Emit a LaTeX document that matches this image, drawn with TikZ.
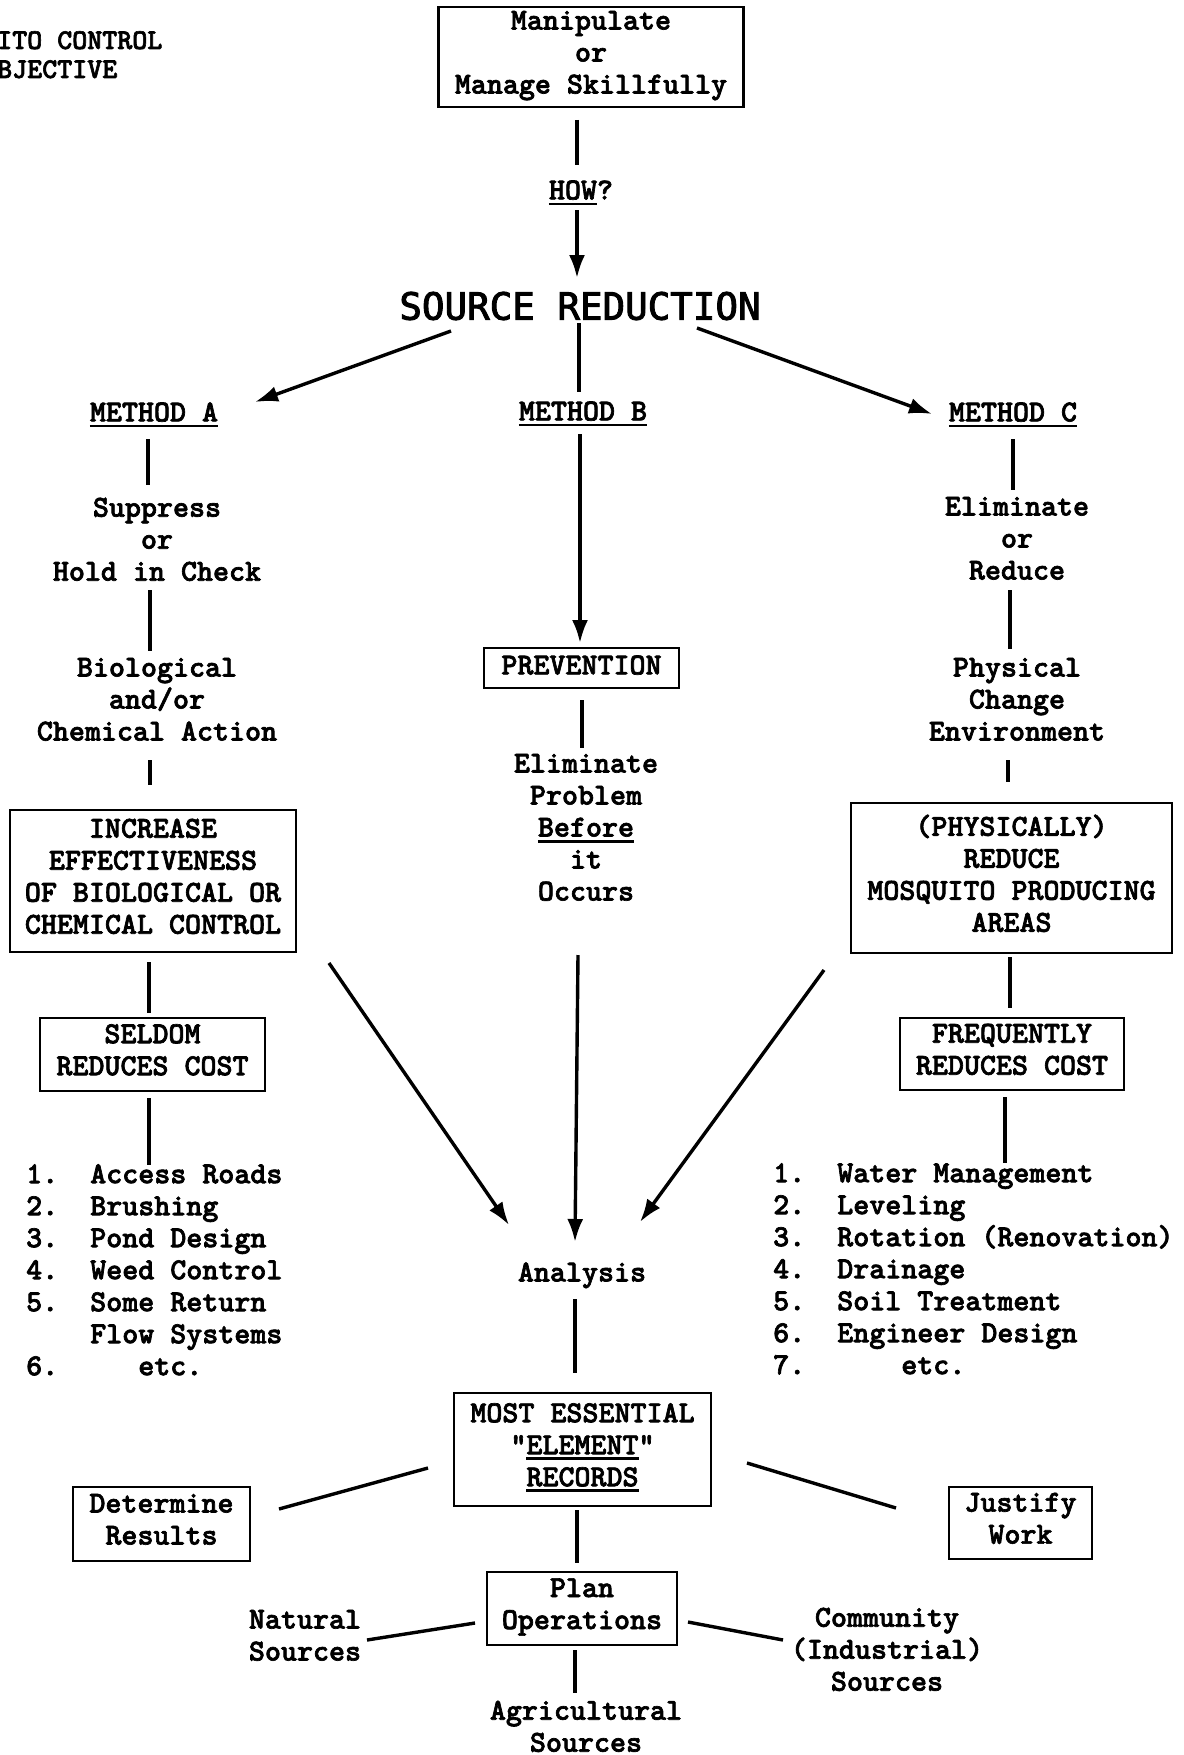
\documentclass[tikz,border=0pt]{standalone}
\usepackage{fontspec}
\newfontfamily\srcfont{DejaVu Sans Mono}[FakeBold=2.5]
\newfontfamily\twfont{lmmonolt10-bold.otf}[FakeBold=2.2]
\usetikzlibrary{arrows.meta,calc}
\newcommand{\twul}[1]{\setbox0\hbox{#1}\rlap{\rule[-6pt]{\wd0}{2.8pt}}\box0}

\begin{document}
\begin{tikzpicture}[x=1pt, y=-1pt, >={Latex[length=23pt,width=16pt]},
  txt/.style={font=\fontsize{30.5}{32}\selectfont\twfont, align=center, inner sep=0pt,
    execute at begin node=\strut, execute at end node=\strut},
  box/.style={txt, draw, line width=2.5pt},
  conn/.style={line width=3.4pt}]
\useasboundingbox (0,0) rectangle (1183,1755);
\fill[white] (0,0) rectangle (1183,1755);

\node (title) at (-3,31) [txt, anchor=north west, align=left, font=\fontsize{28.6}{29}\selectfont\twfont] {ITO CONTROL\\BJECTIVE};

\node (top) at (591,57) [box, minimum width=305, minimum height=100] {Manipulate\\or\\Manage Skillfully};
\node (how) at (581,193) [txt] {\twul{HOW}?};
\node (src) at (580,306) [font=\fontsize{37.5}{40}\selectfont\srcfont, inner sep=0pt] {SOURCE REDUCTION};

\node (methA) at (154,415) [txt] {\twul{METHOD A}};
\node (methB) at (583,414) [txt] {\twul{METHOD B}};
\node (methC) at (1013,415) [txt] {\twul{METHOD C}};

% method A
\node (supp) at (157,544) [txt] {Suppress\\or\\Hold in Check};
\node (bio) at (157,704) [txt] {Biological\\and/or\\Chemical Action};
\node (incr) at (153,881) [box, minimum width=286, minimum height=142] {INCREASE\\EFFECTIVENESS\\OF BIOLOGICAL OR\\CHEMICAL CONTROL};
\node (seldom) at (152.5,1054.5) [box, minimum width=225, minimum height=73] {SELDOM\\REDUCES COST};
\node (listA) at (26,1164) [txt, anchor=north west, align=left] {1.~~Access Roads\\2.~~Brushing\\3.~~Pond Design\\4.~~Weed Control\\5.~~Some Return\\\phantom{5.~~}Flow Systems\\6.~~~~~etc.};

% method B
\node (prev) at (581.5,668) [box, minimum width=195, minimum height=40] {PREVENTION};
\node (ep) at (586,832) [txt] {Eliminate\\Problem\\\twul{Before}\\it\\Occurs};
\node (ana) at (582,1275) [txt] {Analysis};

% method C
\node (elim) at (1017,543) [txt] {Eliminate\\or\\Reduce};
\node (phys) at (1017,704) [txt] {Physical\\Change\\Environment};
\node (pbox) at (1011.5,878) [box, minimum width=321, minimum height=150] {(PHYSICALLY)\\REDUCE\\MOSQUITO PRODUCING\\AREAS};
\node (freq) at (1012,1054) [box, minimum width=224, minimum height=72] {FREQUENTLY\\REDUCES COST};
\node (listC) at (773,1163) [txt, anchor=north west, align=left] {1.~~Water Management\\2.~~Leveling\\3.~~Rotation (Renovation)\\4.~~Drainage\\5.~~Soil Treatment\\6.~~Engineer Design\\7.~~~~~~etc.};

% records
\node (most) at (582.5,1449.5) [box, minimum width=257, minimum height=113] {MOST ESSENTIAL\\\textquotedbl\twul{ELEMENT}\textquotedbl\\\twul{RECORDS}};
\node (det) at (161.5,1524) [box, minimum width=177, minimum height=74] {Determine\\Results};
\node (just) at (1020.5,1523) [box, minimum width=143, minimum height=72] {Justify\\Work};
\node (plan) at (582,1608.5) [box, minimum width=190, minimum height=73] {Plan\\Operations};
\node (nat) at (305,1640) [txt] {Natural\\Sources};
\node (com) at (887,1654) [txt] {Community\\(Industrial)\\Sources};
\node (agri) at (586,1731) [txt] {Agricultural\\Sources};

% connectors
\draw[conn] ($(top)+(-14,63)$) -- ($(how)+(-4,-28)$);
\draw[conn,->] ($(how)+(-4,17)$) -- ($(src)+(-3,-28)$);
\draw[conn,->] ($(src)+(-129,25)$) -- ($(methA)+(101,-13)$);
\draw[conn] ($(src)+(-1,17)$) -- ($(methB)+(-4,-22)$);
\draw[conn,->] ($(src)+(117,22)$) -- ($(methC)+(-81,-1)$);

\draw[conn] ($(methA)+(-6,24)$) -- ($(supp)+(-9,-59)$);
\draw[conn] ($(supp)+(-7,46)$) -- ($(bio)+(-7,-53)$);
\draw[conn] ($(bio)+(-7,56)$) -- ($(incr)+(-3,-96)$);
\draw[conn] ($(incr)+(-4,81)$) -- ($(seldom)+(-3.5,-41.5)$);
\draw[conn] ($(seldom)+(-3.5,43.5)$) -- ($(listA.north west)+(123,1)$);

\draw[conn,->] ($(methB)+(-3,20)$) -- ($(prev)+(-1.5,-25)$);
\draw[conn] ($(prev)+(0.5,32)$) -- ($(ep)+(-4,-84)$);
\draw[conn,->] ($(ep)+(-8,123)$) -- ($(ana)+(-7,-33)$);
\draw[conn,->] ($(incr)+(176,82)$) -- ($(ana)+(-73,-50)$);
\draw[conn,->] ($(pbox)+(-187.5,92)$) -- ($(ana)+(58,-53)$);

\draw[conn] ($(methC)+(0,24)$) -- ($(elim)+(-4,-53)$);
\draw[conn] ($(elim)+(-7,47)$) -- ($(phys)+(-7,-55)$);
\draw[conn] ($(phys)+(-9,56)$) -- ($(pbox)+(-3.5,-96)$);
\draw[conn] ($(pbox)+(-1.5,79)$) -- ($(freq)+(-2,-46)$);
\draw[conn] ($(freq)+(-7,43)$) -- ($(listC.north west)+(232,0)$);

\draw[conn] ($(ana)+(-7,24)$) -- ($(most)+(-7.5,-76.5)$);
\draw[conn] ($(most)+(-154.5,18.5)$) -- ($(det)+(117.5,-15)$);
\draw[conn] ($(most)+(164.5,13.5)$) -- ($(just)+(-124.5,-15)$);
\draw[conn] ($(most)+(-5.5,60.5)$) -- ($(plan)+(-5,-45.5)$);
\draw[conn] ($(plan)+(-107,14.5)$) -- ($(nat)+(62,0)$);
\draw[conn] ($(plan)+(106,13.5)$) -- ($(com)+(-104,-14)$);
\draw[conn] ($(plan)+(-7,41.5)$) -- ($(agri)+(-11,-38)$);

\end{tikzpicture}
\end{document}
